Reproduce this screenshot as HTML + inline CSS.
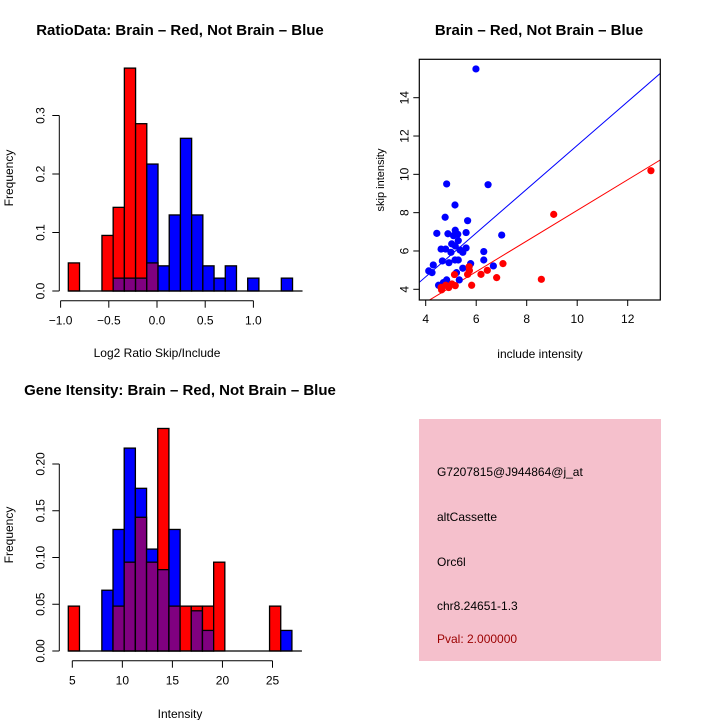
<!DOCTYPE html>
<html><head><meta charset="utf-8"><style>
body{margin:0;background:#fff;}
svg{display:block;font-family:"Liberation Sans",sans-serif;}
</style></head><body>
<svg id="c" width="720" height="720">
<text x="180" y="35" font-size="15" font-weight="bold" text-anchor="middle">RatioData: Brain – Red, Not Brain – Blue</text>
<text x="539" y="35" font-size="15" font-weight="bold" text-anchor="middle">Brain – Red, Not Brain – Blue</text>
<text x="180" y="395" font-size="15" font-weight="bold" text-anchor="middle">Gene Itensity: Brain – Red, Not Brain – Blue</text>
<text x="157" y="357" font-size="12" text-anchor="middle">Log2 Ratio Skip/Include</text>
<text x="180" y="718" font-size="12" text-anchor="middle">Intensity</text>
<text transform="translate(13,178) rotate(-90)" font-size="12" text-anchor="middle">Frequency</text>
<text transform="translate(13,535) rotate(-90)" font-size="12" text-anchor="middle">Frequency</text>
<text x="540" y="358" font-size="12" text-anchor="middle">include intensity</text>
<text transform="translate(384,180) rotate(-90)" font-size="11" text-anchor="middle">skip intensity</text>
<rect x="419" y="419" width="242" height="242" fill="#f5c0cc"/>
<g font-size="12">
<text x="437" y="476">G7207815@J944864@j_at</text>
<text x="437" y="521">altCassette</text>
<text x="437" y="566">Orc6l</text>
<text x="437" y="610">chr8.24651-1.3</text>
<text x="437" y="643" fill="#9b0000">Pval: 2.000000</text>
</g>
</svg>
<script>
// Ratio histogram data
const ratioBinStart = -0.92, ratioBinWidth = 0.1163;
const ratioRed = [0.048,0,0,0.095,0.143,0.381,0.286,0.048,0,0,0,0,0,0,0,0,0,0,0,0];
const ratioBlue = [0,0,0,0,0.022,0.022,0.022,0.217,0.043,0.130,0.261,0.130,0.043,0.022,0.043,0,0.022,0,0,0.022];
const ratioYTicks = [0,0.1,0.2,0.3];
const ratioXTicks = [-1.0,-0.5,0,0.5,1.0];
const ratioXLabels = ["−1.0","−0.5","0.0","0.5","1.0"];
// Intensity histogram data
const intBinStart = 4.6, intBinWidth = 1.117;
const intRed = [0.048,0,0,0,0.048,0.095,0.143,0.095,0.238,0.048,0.048,0.048,0.048,0.095,0,0,0,0,0.048,0];
const intBlue = [0,0,0,0.065,0.130,0.217,0.174,0.109,0.087,0.130,0,0.043,0.022,0,0,0,0,0,0,0.022];
const intYTicks = [0,0.05,0.10,0.15,0.20];
const intYLabels = ["0.00","0.05","0.10","0.15","0.20"];
const intXTicks = [5,10,15,20,25];
// Scatter data
const blueX = [5.99,4.83,6.47,5.16,4.77,5.66,4.44,4.88,5.60,5.17,5.27,7.01,5.10,5.29,5.03,5.17,4.61,4.79,5.00,5.36,5.60,5.47,6.30,4.30,4.66,4.92,5.16,5.29,6.30,5.78,4.12,4.25,5.47,6.68,5.22,5.33,4.83,4.70,4.51];
const blueY = [15.5,9.50,9.46,8.40,7.76,7.58,6.92,6.90,6.96,7.08,6.87,6.83,6.80,6.54,6.37,6.26,6.10,6.10,5.93,6.05,6.16,5.93,5.97,5.27,5.48,5.39,5.53,5.53,5.53,5.34,4.96,4.87,5.10,5.22,4.87,4.49,4.49,4.35,4.21];
const redX = [12.92,9.07,8.58,7.06,6.44,6.81,6.19,5.72,5.73,5.66,5.14,5.82,5.04,5.17,4.91,4.63,4.61,4.79];
const redY = [10.19,7.91,4.52,5.34,4.99,4.61,4.78,5.18,4.97,4.78,4.77,4.21,4.28,4.19,4.09,3.97,4.10,4.21];
const blueFit = [0.08,1.143];
const redFit = [0.12,0.80];
const scXTicks = [4,6,8,10,12];
const scYTicks = [4,6,8,10,12,14];

const NS="http://www.w3.org/2000/svg";
const svg=document.getElementById('c');
function mk(tag,attrs,parent){const e=document.createElementNS(NS,tag);for(const k in attrs)e.setAttribute(k,attrs[k]);(parent||svg).appendChild(e);return e;}

function hist(red,blue,start,w,xs,ys,base,axisX,yTicks,yLabels,xTicks,xLabels,axisY,prefix){
  const g=mk('g',{});
  
  
  for(let i=0;i<red.length;i++){
    const x0=xs(start+i*w), x1=xs(start+(i+1)*w);
    const r=red[i], b=blue[i];
    const hi=Math.max(r,b), lo=Math.min(r,b);
    if(hi>0){
      const e=mk('rect',{x:x0,y:ys(hi),width:x1-x0,height:base-ys(hi),fill:r>=b?'#ff0000':'#0000ff',stroke:'#000','stroke-width':1.3},g);
      
      
    }
    if(lo>0){
      const e=mk('rect',{x:x0,y:ys(lo),width:x1-x0,height:base-ys(lo),fill:'#800080',stroke:'#000','stroke-width':1.3},g);
      
      
    }
  }
  mk('line',{x1:xs(start),x2:xs(start+red.length*w)+10,y1:base,y2:base,stroke:'#000','stroke-width':1.3},g);
  const ya=mk('g',{},g);
  
  
  mk('line',{x1:axisX,x2:axisX,y1:ys(yTicks[0]),y2:ys(yTicks[yTicks.length-1]),stroke:'#000'},ya);
  yTicks.forEach((t,i)=>{
    mk('line',{x1:axisX-7,x2:axisX,y1:ys(t),y2:ys(t),stroke:'#000'},ya);
    const tx=mk('text',{transform:`translate(${axisX-15},${ys(t)}) rotate(-90)`,'font-size':12,'text-anchor':'middle'},ya);
    tx.textContent=yLabels[i];
  });
  const xa=mk('g',{},g);
  
  
  mk('line',{x1:xs(xTicks[0]),x2:xs(xTicks[xTicks.length-1]),y1:axisY,y2:axisY,stroke:'#000'},xa);
  xTicks.forEach((t,i)=>{
    mk('line',{x1:xs(t),x2:xs(t),y1:axisY,y2:axisY+7,stroke:'#000'},xa);
    const tx=mk('text',{x:xs(t),y:axisY+24,'font-size':12,'text-anchor':'middle'},xa);
    tx.textContent=xLabels[i];
  });
}
hist(ratioRed,ratioBlue,ratioBinStart,ratioBinWidth,v=>157+v*96.4,v=>291-v*585,291,59.3,ratioYTicks,["0.0","0.1","0.2","0.3"],ratioXTicks,ratioXLabels,300.7,'ratio');
hist(intRed,intBlue,intBinStart,intBinWidth,v=>72.3+(v-5)*10.01,v=>651-v*935,651,59.3,intYTicks,intYLabels,intXTicks,intXTicks.map(String),660.7,'intensity');

const sx=v=>425.7+(v-4)*25.25, sy=v=>289.3-(v-4)*19.16;
const L=419.3,R=660.3,T=59.3,B=300;
const sg=mk('g',{});


const defs=mk('defs',{},sg);
const cp=mk('clipPath',{id:'clip'},defs);
mk('rect',{x:L,y:T,width:R-L,height:B-T},cp);
const lg=mk('g',{'clip-path':'url(#clip)'},sg);
[[blueFit,'#0000ff','blue-fit-line'],[redFit,'#ff0000','red-fit-line']].forEach(([f,c,n])=>{
  const x0=3, x1=14;
  const l=mk('line',{x1:sx(x0),y1:sy(f[0]+f[1]*x0),x2:sx(x1),y2:sy(f[0]+f[1]*x1),stroke:c,'stroke-width':1},lg);
  
  
});
blueX.forEach((x,i)=>{
  const p=mk('circle',{cx:sx(x),cy:sy(blueY[i]),r:3.6,fill:'#0000ff'},lg);
  
  
});
redX.forEach((x,i)=>{
  const p=mk('circle',{cx:sx(x),cy:sy(redY[i]),r:3.6,fill:'#ff0000'},lg);
  
  
});
mk('rect',{x:L,y:T,width:R-L,height:B-T,fill:'none',stroke:'#000','stroke-width':1.2},sg);
const sxa=mk('g',{},sg);


scXTicks.forEach(t=>{
  mk('line',{x1:sx(t),x2:sx(t),y1:B,y2:B+6,stroke:'#000'},sxa);
  const tx=mk('text',{x:sx(t),y:B+23,'font-size':12,'text-anchor':'middle'},sxa);
  tx.textContent=t;
});
const sya=mk('g',{},sg);


scYTicks.forEach(t=>{
  mk('line',{x1:L-6,x2:L,y1:sy(t),y2:sy(t),stroke:'#000'},sya);
  const tx=mk('text',{transform:`translate(${L-11},${sy(t)}) rotate(-90)`,'font-size':12,'text-anchor':'middle'},sya);
  tx.textContent=t;
});
</script>
</body></html>
